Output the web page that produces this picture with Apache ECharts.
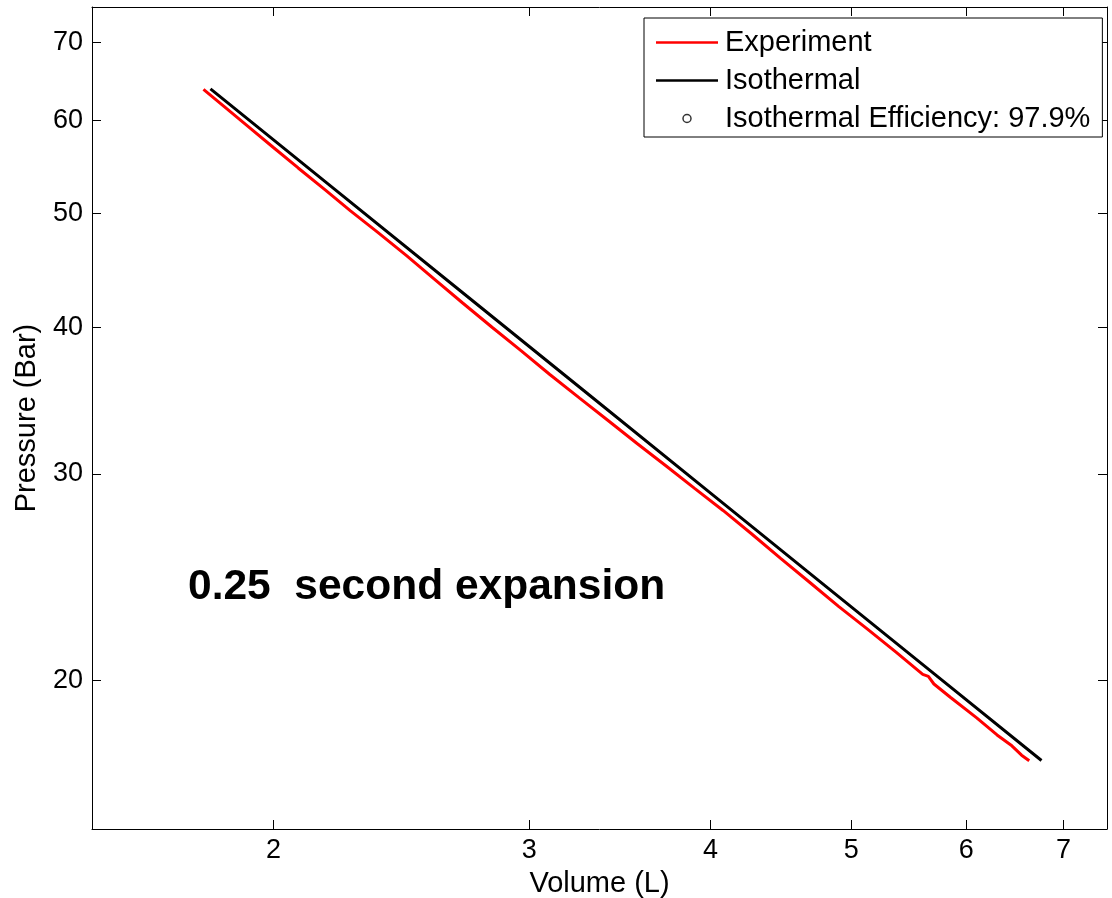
<!DOCTYPE html>
<html>
<head>
<meta charset="utf-8">
<script src="https://cdn.jsdelivr.net/npm/echarts@6/dist/echarts.min.js"></script>
<style>html,body{margin:0;padding:0;background:#fff}#c{width:1112px;height:898px}</style>
</head>
<body>
<div id="c"></div>
<script>
// Volume (L) / Pressure (Bar)
var expVolume = [1.79, 1.85, 1.92, 2.0, 2.08, 2.17, 2.26, 2.36, 2.47, 2.58, 2.70, 2.83, 2.96, 3.1, 3.25, 3.4, 3.56, 3.73, 3.9, 4.08, 4.27, 4.47, 4.68, 4.9, 5.13, 5.37, 5.6, 5.65, 5.7, 5.85, 6.1, 6.3, 6.45, 6.55, 6.63];
var expPressure = [63.8, 61.68, 59.37, 56.93, 54.69, 52.42, 50.28, 48.2, 46.05, 44.0, 41.96, 39.99, 38.23, 36.47, 34.82, 33.32, 31.85, 30.46, 29.17, 27.93, 26.67, 25.42, 24.26, 23.14, 22.13, 21.14, 20.25, 20.17, 19.87, 19.36, 18.59, 17.98, 17.6, 17.28, 17.09];
var isoVolume = [1.81, 2.2, 2.7, 3.3, 4.0, 4.8, 5.7, 6.76];
var isoPressure = [63.87, 52.55, 42.81, 35.03, 28.9, 24.08, 20.28, 17.1];
var xTicks = [2, 3, 4, 5, 6, 7];
var yTicks = [20, 30, 40, 50, 60, 70];
var seriesNames = ['Experiment', 'Isothermal', 'Isothermal Efficiency: 97.9%'];
var annotation = '0.25  second expansion';

function pairs(xs, ys) { return xs.map(function (x, i) { return [x, ys[i]]; }); }

var font = 'Liberation Sans, Arial, Helvetica, sans-serif';
function xAxisCfg(pos, showLabel, name) {
  return {
    type: 'log', position: pos, min: 1.5, max: 7.5,
    name: name, nameLocation: 'middle', nameGap: 40,
    nameTextStyle: { fontFamily: font, fontSize: 29, color: '#000' },
    axisLine: { show: true, lineStyle: { color: '#000', width: 1 } },
    axisTick: { show: true, inside: true, length: 9, customValues: xTicks, lineStyle: { color: '#000' } },
    axisLabel: { show: showLabel, customValues: xTicks, margin: 8, fontFamily: font, fontSize: 27, color: '#000', formatter: function (v) { return String(Math.round(v)); } },
    splitLine: { show: false }, minorTick: { show: false }
  };
}
function yAxisCfg(pos, showLabel, name) {
  return {
    type: 'log', position: pos, min: 14.95, max: 75,
    name: name, nameLocation: 'middle', nameGap: 51,
    nameTextStyle: { fontFamily: font, fontSize: 29, color: '#000' },
    axisLine: { show: true, lineStyle: { color: '#000', width: 1 } },
    axisTick: { show: true, inside: true, length: 9, customValues: yTicks, lineStyle: { color: '#000' } },
    axisLabel: { show: showLabel, customValues: yTicks, margin: 9, fontFamily: font, fontSize: 27, color: '#000', formatter: function (v) { return String(Math.round(v)); } },
    splitLine: { show: false }, minorTick: { show: false }
  };
}

var lineIcon = 'path://M0,0H62V2.5H0Z';

var chart = echarts.init(document.getElementById('c'), null, { renderer: 'canvas' });
chart.setOption({
  backgroundColor: '#fff',
  animation: false,
  grid: { left: 92, right: 5, top: 7, bottom: 69, containLabel: false, outerBoundsMode: 'none' },
  xAxis: [xAxisCfg('bottom', true, 'Volume (L)'), xAxisCfg('top', false, '')],
  yAxis: [yAxisCfg('left', true, 'Pressure (Bar)'), yAxisCfg('right', false, '')],
  legend: {
    orient: 'vertical', left: 644, top: 18,
    backgroundColor: '#fff', borderColor: '#000', borderWidth: 1,
    padding: [10, 12, 4, 12], itemGap: 9, itemWidth: 62, itemHeight: 8,
    symbolKeepAspect: true,
    textStyle: { fontFamily: font, fontSize: 29, color: '#000', padding: [0, 0, 0, 2] },
    data: [
      { name: seriesNames[0], icon: lineIcon },
      { name: seriesNames[1], icon: lineIcon },
      { name: seriesNames[2], icon: 'circle', itemStyle: { color: '#fff', borderColor: '#000', borderWidth: 1.5 } }
    ]
  },
  graphic: [{
    type: 'text', left: 188, top: 566,
    style: { text: annotation, fontFamily: font, fontWeight: 'bold', fontSize: 42.5, fill: '#000' }
  }],
  series: [
    { name: seriesNames[0], type: 'line', data: pairs(expVolume, expPressure), symbol: 'none', showSymbol: false, lineStyle: { color: '#ff0000', width: 3 }, itemStyle: { color: '#ff0000' }, z: 3 },
    { name: seriesNames[1], type: 'line', data: pairs(isoVolume, isoPressure), symbol: 'none', showSymbol: false, lineStyle: { color: '#000', width: 3 }, itemStyle: { color: '#000' }, z: 4 },
    { name: seriesNames[2], type: 'scatter', data: [], symbol: 'emptyCircle', symbolSize: 8, itemStyle: { color: '#000' } }
  ]
});
</script>
</body>
</html>
